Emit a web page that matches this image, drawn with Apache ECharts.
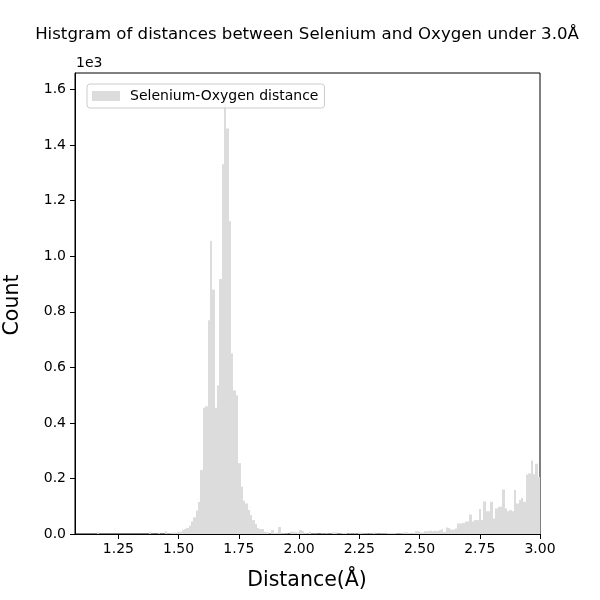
<!DOCTYPE html>
<html>
<head>
<meta charset="utf-8">
<script src="https://cdn.jsdelivr.net/npm/echarts@6/dist/echarts.min.js"></script>
<style>
html, body { margin: 0; padding: 0; background: #fff; }
#chart { width: 600px; height: 600px; }
</style>
</head>
<body>
<div id="chart"></div>
<script>
// histogram bins: equal width between binLow and binHigh, one count per bin
var binLow = 1.16;
var binHigh = 3.0;
var counts = [
    6, 0, 0, 0, 0, 0, 0, 0, 0, 0,
    0, 0, 0, 0, 0, 0, 0, 0, 0, 0,
    0, 0, 8, 0, 0, 0, 3, 0, 0, 10,
    2, 3, 5, 3, 8, 8, 15, 18, 22, 30,
    45, 60, 85, 115, 230, 455, 460, 770, 1055, 880,
    455, 535, 918, 1331, 1580, 1460, 1126, 650, 517, 500,
    255, 170, 120, 110, 86, 68, 50, 36, 22, 18,
    18, 8, 6, 2, 14, 4, 5, 25, 3, 3,
    2, 0, 8, 8, 5, 5, 14, 10, 3, 3,
    8, 1, 2, 1, 0, 2, 1, 2, 1, 1,
    6, 6, 1, 2, 4, 4, 1, 2, 1, 2,
    1, 5, 5, 2, 2, 1, 2, 5, 2, 1,
    2, 2, 2, 4, 4, 4, 4, 2, 2, 3,
    6, 6, 4, 3, 4, 10, 10, 5, 5, 10,
    10, 12, 10, 12, 11, 14, 16, 7, 23, 22,
    16, 16, 20, 38, 38, 40, 45, 45, 70, 45,
    50, 50, 90, 50, 117, 82, 82, 116, 56, 92,
    98, 98, 160, 92, 82, 86, 82, 158, 110, 122,
    130, 116, 214, 218, 265, 215, 253, 205
];
var xTicks = [1.25, 1.5, 1.75, 2.0, 2.25, 2.5, 2.75, 3.0];
var yTicks = [0, 200, 400, 600, 800, 1000, 1200, 1400, 1600];
var seriesName = 'Selenium-Oxygen distance';

var barColor = '#dcdcdc';
var font = 'DejaVu Sans';

// [left edge, right edge, count] for every bin
var width = (binHigh - binLow) / counts.length;
var bins = counts.map(function (c, i) {
    return [binLow + i * width, binLow + (i + 1) * width, c];
});

var chart = echarts.init(document.getElementById('chart'));

var option = {
    animation: false,
    backgroundColor: '#fff',
    grid: {
        left: 75, right: 60, top: 73, bottom: 66,
        show: true, borderColor: '#000', borderWidth: 1,
        backgroundColor: 'transparent'
    },
    legend: {
        data: [{ name: seriesName, icon: 'rect' }],
        left: 87, top: 84,
        itemWidth: 28, itemHeight: 10,
        padding: [5, 6, 5, 5],
        backgroundColor: 'rgba(255,255,255,0.8)',
        borderColor: '#cccccc', borderWidth: 1, borderRadius: 3,
        textStyle: { fontFamily: font, fontSize: 14, color: '#000', padding: [0, 0, 0, 5] }
    },
    xAxis: {
        type: 'value',
        min: 1.07, max: 3.0,
        axisLine: { show: true, onZero: false, lineStyle: { color: '#000' } },
        axisTick: { show: true, length: 5, customValues: xTicks, lineStyle: { color: '#000' } },
        axisLabel: {
            customValues: xTicks, margin: 8,
            fontFamily: font, fontSize: 14, color: '#000',
            formatter: function (v) { return v.toFixed(2); }
        },
        splitLine: { show: false }
    },
    yAxis: {
        type: 'value',
        min: 0, max: 1660,
        axisLine: { show: true, lineStyle: { color: '#000' } },
        axisTick: { show: true, length: 5, customValues: yTicks, lineStyle: { color: '#000' } },
        axisLabel: {
            customValues: yTicks, margin: 9,
            fontFamily: font, fontSize: 14, color: '#000',
            formatter: function (v) { return (v / 1000).toFixed(1); }
        },
        splitLine: { show: false }
    },
    graphic: [
        {   // 标题
            type: 'text', x: 307, y: 35, silent: true,
            style: {
                text: 'Histgram of distances between Selenium and Oxygen under 3.0Å',
                fontFamily: font, fontSize: 16.6, fill: '#000',
                align: 'center', verticalAlign: 'middle',
                textAlign: 'center', textVerticalAlign: 'middle'
            }
        },
        {   // 坐标轴偏移量 1e3
            type: 'text', x: 76, y: 63, silent: true,
            style: {
                text: '1e3', fontFamily: font, fontSize: 14, fill: '#000',
                align: 'left', verticalAlign: 'middle',
                textAlign: 'left', textVerticalAlign: 'middle'
            }
        },
        {
            type: 'text', x: 307, y: 581, silent: true,
            style: {
                text: 'Distance(Å)', fontFamily: font, fontSize: 20.5, fill: '#000',
                align: 'center', verticalAlign: 'middle',
                textAlign: 'center', textVerticalAlign: 'middle'
            }
        },
        {
            type: 'text', x: 13, y: 305, rotation: Math.PI / 2, silent: true,
            style: {
                text: 'Count', fontFamily: font, fontSize: 20.5, fill: '#000',
                align: 'center', verticalAlign: 'middle',
                textAlign: 'center', textVerticalAlign: 'middle'
            }
        }
    ],
    series: [{
        name: seriesName,
        type: 'custom',
        clip: true,
        itemStyle: { color: barColor },
        encode: { x: [0, 1], y: 2 },
        data: bins,
        renderItem: function (params, api) {
            var top = api.coord([api.value(0), api.value(2)]);
            var base = api.coord([api.value(1), 0]);
            // 像素取整，避免相邻柱子之间出现白缝
            var x0 = Math.round(top[0]);
            var x1 = Math.round(base[0]);
            return {
                type: 'rect',
                shape: { x: x0, y: top[1], width: x1 - x0, height: base[1] - top[1] },
                style: { fill: barColor }
            };
        }
    }]
};

chart.setOption(option);
</script>
</body>
</html>
